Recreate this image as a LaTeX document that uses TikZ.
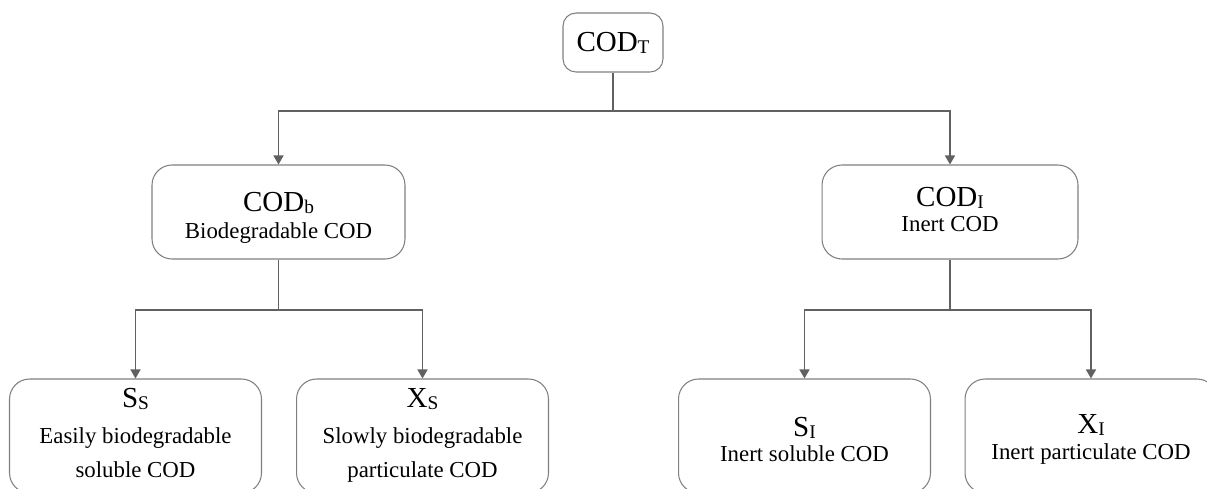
\documentclass[tikz,border=0pt]{standalone}
\usepackage{fontspec}
\setmainfont{Liberation Serif}
\usetikzlibrary{arrows.meta}

% lowered index in text font
\newcommand{\subidx}[1]{\raisebox{-0.08em}{\fontsize{11}{11}\selectfont #1}}

\tikzset{
    box/.style={draw=black!50, line width=0.6pt, fill=white, rounded corners=0.4cm, inner sep=0pt},
    lead/.style={anchor=base, inner sep=0pt, font=\fontsize{16.5}{19}\selectfont},
    note/.style={anchor=base, inner sep=0pt, font=\fontsize{13}{15}\selectfont},
    link/.style={draw=black!62, line width=0.85pt},
    arr/.style={link, -{Triangle[width=0.2cm,length=0.18cm]}}
}

\begin{document}
\begin{tikzpicture}[x=0.02cm, y=-0.02cm]
    \useasboundingbox (0,0) rectangle (1207,488);
    \clip (0,0) rectangle (1207,488);

    % frames
    \node[box, minimum width=2cm, minimum height=1.18cm, rounded corners=0.26cm] (codt) at (613,42.5) {};
    \node[box, minimum width=5.06cm, minimum height=1.88cm] (codb) at (278.5,212) {};
    \node[box, minimum width=5.12cm, minimum height=1.88cm] (codi) at (950,212) {};
    \foreach \n/\x in {ss/135.5, xs/422.5, si/804.5, xi/1091}
        \node[box, minimum width=5.04cm, minimum height=2.28cm] (\n) at (\x,436) {};

    % labels
    \node[lead] (codt-t) at (613,51) {COD\subidx{T}};

    \node[lead] (codb-t) at (278.5,211) {COD\subidx{b}};
    \node[note] (codb-d) at (278.5,238) {Biodegradable COD};

    \node[lead] (codi-t) at (950,206) {COD\subidx{I}};
    \node[note] (codi-d) at (950,231) {Inert COD};

    \node[lead] (ss-t) at (135.5,407) {S\subidx{S}};
    \node[note] (ss-d1) at (135.5,443) {Easily biodegradable};
    \node[note] (ss-d2) at (135.5,477) {soluble COD};

    \node[lead] (xs-t) at (422.5,407) {X\subidx{S}};
    \node[note] (xs-d1) at (422.5,443) {Slowly biodegradable};
    \node[note] (xs-d2) at (422.5,477) {particulate COD};

    \node[lead] (si-t) at (804.5,436) {S\subidx{I}};
    \node[note] (si-d) at (804.5,461) {Inert soluble COD};

    \node[lead] (xi-t) at (1091,433) {X\subidx{I}};
    \node[note] (xi-d) at (1091,459) {Inert particulate COD};

    % connectors
    \coordinate (topfork) at (613,111);
    \coordinate (leftfork) at (278.5,310);
    \coordinate (rightfork) at (950,310);

    \draw[link] (codt) -- (topfork);
    \draw[arr] (topfork) -| (codb);
    \draw[arr] (topfork) -| (codi);

    \draw[link] (codb) -- (leftfork);
    \draw[arr] (leftfork) -| (ss);
    \draw[arr] (leftfork) -| (xs);

    \draw[link] (codi) -- (rightfork);
    \draw[arr] (rightfork) -| (si);
    \draw[arr] (rightfork) -| (xi);
\end{tikzpicture}
\end{document}
